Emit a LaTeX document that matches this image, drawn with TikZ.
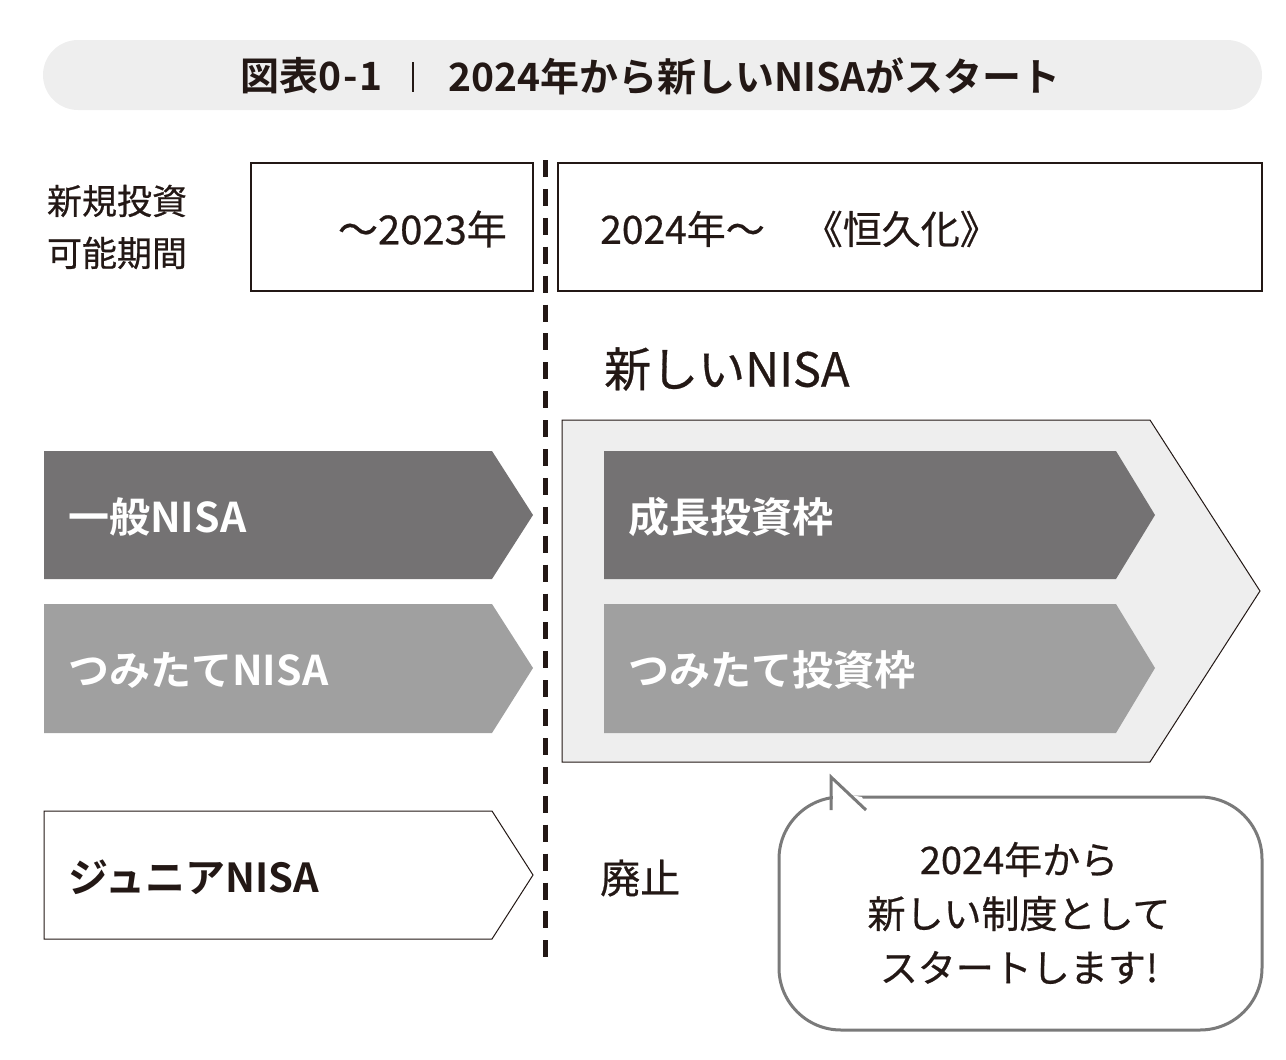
\documentclass[tikz,border=0pt]{standalone}
\usepackage{fontspec}
\setmainfont{Noto Sans CJK JP}
\newfontfamily\jpb{Noto Sans CJK JP Bold}
\newfontfamily\jpm[FakeBold=0.6]{Noto Sans CJK JP}
\definecolor{ink}{HTML}{231815}
\definecolor{darkg}{HTML}{747273}
\definecolor{midg}{HTML}{A0A0A0}
\definecolor{lightg}{HTML}{EEEEEE}
\definecolor{bubg}{HTML}{7A7A7A}
\newcommand{\fsz}[1]{\fontsize{#1}{#1}\selectfont}
\begin{document}
\begin{tikzpicture}[x=1pt,y=-1pt,
  txt/.style={inner sep=0pt,text=ink},
  wtxt/.style={inner sep=0pt,text=white,anchor=west},
  boxline/.style={draw=ink,line width=1.3pt},
  arrowline/.style={draw=ink,line width=1pt}]
\useasboundingbox (0,0) rectangle (1286,1060);
% title bar
\fill[lightg,rounded corners=35pt] (43,40) rectangle (1262,110);
\node[txt,anchor=west] (t1) at (240,76) {\jpb\fsz{39}図表0\kern2pt-\kern2pt1};
\draw[ink,line width=1.2pt] (413,62) -- (413,92);
\node[txt,anchor=west] (t2) at (448,76) {\jpb\fsz{39}2024年から新しいNISAがスタート};
% left label
\node[txt,align=center,font=\jpm\fsz{35}] (lab) at (117,227) {新規投資\\[17pt]可能期間};
% period boxes
\draw[boxline] (251,163) rectangle (533,291);
\node[txt,anchor=east,font=\jpm\fsz{40}] (p1) at (507,229) {～2023年};
\draw[boxline] (558,163) rectangle (1262,291);
\node[txt,anchor=west,font=\jpm\fsz{39}] (p2) at (600,229) {2024年～　《恒久化》};
% dashed divider
\coordinate (dtop) at (545.5,160);
\coordinate (dbot) at (545.5,968);
\draw[ink,line width=5.5pt,dash pattern=on 17pt off 11.9pt] (dtop) -- (dbot);
% new NISA heading
\node[txt,anchor=west,font=\jpm\fsz{47}] (new) at (604,369) {新しいNISA};
% big arrow
\draw[arrowline,fill=lightg] (562,420) -- (1150,420) -- (1260,591) -- (1150,762) -- (562,762) -- cycle;
% inner arrows
\fill[darkg] (604,451) -- (1116,451) -- (1155,515) -- (1116,579) -- (604,579) -- cycle;
\node[wtxt,font=\jpb\fsz{41}] (g1) at (628,517) {成長投資枠};
\fill[midg] (604,604) -- (1116,604) -- (1155,668) -- (1116,733) -- (604,733) -- cycle;
\node[wtxt,font=\jpb\fsz{41}] (g2) at (628,670) {つみたて投資枠};
% old NISA arrows
\fill[darkg] (44,451) -- (492,451) -- (533,515) -- (492,579) -- (44,579) -- cycle;
\node[wtxt,font=\jpb\fsz{41}] (o1) at (68,517) {一般NISA};
\fill[midg] (44,604) -- (492,604) -- (533,668) -- (492,733) -- (44,733) -- cycle;
\node[wtxt,font=\jpb\fsz{41}] (o2) at (68,670) {つみたてNISA};
\draw[arrowline,fill=white] (44,811) -- (492,811) -- (533,875) -- (492,939) -- (44,939) -- cycle;
\node[txt,anchor=west,font=\jpb\fsz{40}] (o3) at (68,877) {ジュニアNISA};
\node[txt,anchor=west,font=\jpm\fsz{40}] (abol) at (600,878) {廃止};
% speech bubble
\draw[bubg,line width=3pt,rounded corners=62pt,fill=white] (779,797) rectangle (1262,1030);
\fill[white] (833,792) -- (833,812) -- (868,812) -- (862,797) -- cycle;
\draw[bubg,line width=3pt] (831,810) -- (831,777) -- (866,810);
\node[txt,align=center,font=\jpm\fsz{38}] (bub) at (1019,913) {2024年から\\[16pt]新しい制度として\\[16pt]スタートします!};
\end{tikzpicture}
\end{document}
